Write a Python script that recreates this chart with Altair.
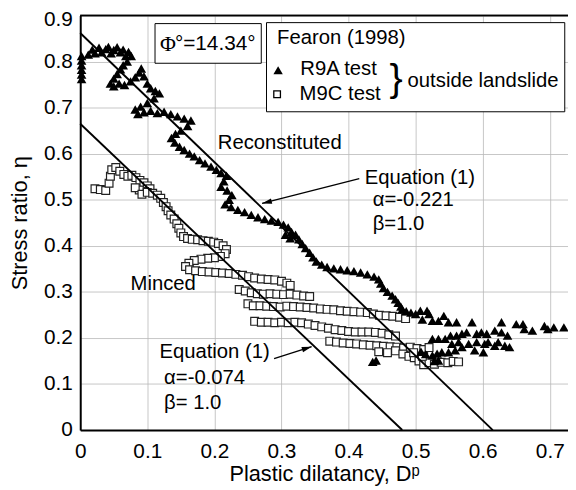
import altair as alt
import pandas as pd

# ---------------- data ----------------
# R9A test (filled triangles): (plastic dilatancy, stress ratio)
r9a_points = [
    (0.002, 0.762), (0.002, 0.772), (0.002, 0.782), (0.002, 0.792), (0.002, 0.802), (0.002, 0.812),
    (0.012, 0.815), (0.018, 0.826), (0.022, 0.818), (0.028, 0.830), (0.032, 0.820), (0.038, 0.827),
    (0.042, 0.832), (0.046, 0.818), (0.050, 0.825), (0.055, 0.831), (0.060, 0.820), (0.064, 0.826),
    (0.068, 0.812), (0.072, 0.821), (0.076, 0.812), (0.070, 0.800), (0.064, 0.792), (0.060, 0.783),
    (0.055, 0.773), (0.050, 0.763), (0.045, 0.752), (0.050, 0.746), (0.058, 0.752), (0.066, 0.749),
    (0.075, 0.757), (0.082, 0.766), (0.088, 0.776), (0.091, 0.785), (0.095, 0.768), (0.100, 0.752),
    (0.105, 0.742), (0.112, 0.736), (0.118, 0.731), (0.110, 0.720), (0.100, 0.710), (0.090, 0.702),
    (0.082, 0.696), (0.086, 0.686), (0.095, 0.690), (0.105, 0.693), (0.115, 0.688), (0.125, 0.691),
    (0.135, 0.686), (0.145, 0.681), (0.155, 0.676), (0.165, 0.672), (0.160, 0.660), (0.150, 0.650),
    (0.142, 0.643), (0.136, 0.634), (0.141, 0.624), (0.148, 0.615), (0.155, 0.608), (0.163, 0.600),
    (0.170, 0.594), (0.178, 0.586), (0.186, 0.579), (0.195, 0.572), (0.203, 0.565), (0.210, 0.558),
    (0.218, 0.552), (0.214, 0.540), (0.210, 0.528), (0.219, 0.520), (0.226, 0.510), (0.222, 0.500),
    (0.216, 0.490), (0.225, 0.484), (0.235, 0.478), (0.245, 0.473), (0.255, 0.467), (0.265, 0.462),
    (0.275, 0.458), (0.285, 0.455), (0.295, 0.452), (0.303, 0.446), (0.310, 0.440), (0.315, 0.430),
    (0.306, 0.424), (0.313, 0.416), (0.321, 0.424), (0.326, 0.414), (0.331, 0.404), (0.336, 0.395),
    (0.342, 0.385), (0.347, 0.375), (0.352, 0.366), (0.360, 0.359), (0.368, 0.354), (0.378, 0.351),
    (0.388, 0.349), (0.398, 0.347), (0.408, 0.345), (0.418, 0.342), (0.428, 0.338), (0.438, 0.333),
    (0.445, 0.327), (0.448, 0.318), (0.452, 0.308), (0.458, 0.300), (0.465, 0.292), (0.470, 0.284),
    (0.474, 0.276), (0.478, 0.268), (0.480, 0.262), (0.486, 0.258), (0.493, 0.255), (0.500, 0.252),
    (0.507, 0.259), (0.517, 0.259), (0.520, 0.252), (0.510, 0.240), (0.525, 0.237), (0.534, 0.237),
    (0.542, 0.248), (0.549, 0.234), (0.561, 0.234), (0.584, 0.234), (0.628, 0.234), (0.650, 0.230),
    (0.660, 0.230), (0.662, 0.219), (0.674, 0.216), (0.692, 0.226), (0.697, 0.219), (0.706, 0.223),
    (0.721, 0.223),
    (0.525, 0.198), (0.534, 0.198), (0.544, 0.198), (0.552, 0.205), (0.561, 0.205), (0.569, 0.209),
    (0.576, 0.212), (0.591, 0.209), (0.598, 0.212), (0.606, 0.209), (0.618, 0.216), (0.628, 0.212),
    (0.637, 0.205), (0.623, 0.191), (0.633, 0.183), (0.640, 0.180), (0.618, 0.183), (0.608, 0.191),
    (0.603, 0.187), (0.591, 0.191), (0.579, 0.187), (0.569, 0.180), (0.559, 0.173), (0.549, 0.169),
    (0.539, 0.169), (0.532, 0.166), (0.525, 0.162), (0.534, 0.151), (0.601, 0.169), (0.588, 0.173),
    (0.564, 0.191), (0.554, 0.187), (0.515, 0.165), (0.508, 0.170), (0.528, 0.150),
    (0.436, 0.148), (0.441, 0.151),
]

# M9C test (open squares)
m9c_points = [
    (0.022, 0.524), (0.030, 0.522), (0.038, 0.520), (0.043, 0.536), (0.045, 0.551), (0.047, 0.565),
    (0.053, 0.570), (0.059, 0.562), (0.065, 0.555), (0.071, 0.551), (0.077, 0.553), (0.083, 0.548),
    (0.089, 0.542), (0.095, 0.537), (0.100, 0.530), (0.104, 0.524), (0.096, 0.518), (0.088, 0.521),
    (0.082, 0.526), (0.092, 0.512), (0.100, 0.516), (0.108, 0.514), (0.115, 0.510), (0.120, 0.503),
    (0.124, 0.494), (0.128, 0.485), (0.131, 0.476), (0.135, 0.467), (0.140, 0.458), (0.144, 0.448),
    (0.147, 0.438), (0.150, 0.428), (0.154, 0.420), (0.160, 0.416), (0.167, 0.414), (0.175, 0.413),
    (0.183, 0.411), (0.191, 0.410), (0.199, 0.408), (0.206, 0.405), (0.213, 0.400), (0.218, 0.392),
    (0.216, 0.383), (0.209, 0.377), (0.200, 0.374), (0.190, 0.373), (0.180, 0.371), (0.170, 0.368),
    (0.162, 0.362), (0.157, 0.355), (0.163, 0.348), (0.172, 0.346), (0.182, 0.344), (0.192, 0.343),
    (0.202, 0.342), (0.212, 0.341), (0.222, 0.340), (0.232, 0.338), (0.242, 0.336), (0.251, 0.333),
    (0.260, 0.330), (0.270, 0.328), (0.280, 0.327), (0.290, 0.326), (0.300, 0.323), (0.308, 0.319),
    (0.313, 0.314),
    (0.237, 0.305), (0.246, 0.302), (0.255, 0.298), (0.264, 0.296), (0.273, 0.295), (0.283, 0.296),
    (0.293, 0.295), (0.303, 0.294), (0.313, 0.295), (0.323, 0.293), (0.333, 0.291), (0.342, 0.290),
    (0.250, 0.274), (0.258, 0.270), (0.268, 0.270), (0.278, 0.269), (0.288, 0.268), (0.298, 0.267),
    (0.308, 0.269), (0.318, 0.268), (0.328, 0.267), (0.338, 0.266), (0.348, 0.265), (0.358, 0.263),
    (0.368, 0.262), (0.378, 0.261), (0.388, 0.259), (0.398, 0.258), (0.408, 0.257), (0.418, 0.256),
    (0.428, 0.255), (0.437, 0.252), (0.446, 0.249), (0.456, 0.248), (0.466, 0.247), (0.476, 0.245),
    (0.485, 0.242),
    (0.260, 0.236), (0.270, 0.234), (0.280, 0.234), (0.290, 0.233), (0.300, 0.234), (0.310, 0.233),
    (0.320, 0.234), (0.330, 0.233), (0.340, 0.230), (0.350, 0.227), (0.360, 0.224), (0.370, 0.221),
    (0.380, 0.218), (0.390, 0.216), (0.400, 0.214), (0.410, 0.213), (0.420, 0.213), (0.430, 0.213),
    (0.440, 0.212), (0.450, 0.210), (0.460, 0.207), (0.470, 0.204),
    (0.372, 0.193), (0.382, 0.191), (0.392, 0.189), (0.402, 0.188), (0.412, 0.187), (0.422, 0.185),
    (0.432, 0.184), (0.442, 0.183), (0.452, 0.182), (0.462, 0.181), (0.472, 0.180), (0.482, 0.178),
    (0.492, 0.180), (0.502, 0.177), (0.512, 0.175), (0.520, 0.179),
    (0.445, 0.170), (0.458, 0.168), (0.470, 0.172), (0.481, 0.165), (0.490, 0.160), (0.498, 0.157),
    (0.505, 0.150), (0.512, 0.142), (0.520, 0.146), (0.528, 0.143), (0.538, 0.147), (0.548, 0.146),
    (0.556, 0.149), (0.564, 0.148), (0.497, 0.168), (0.510, 0.160),
]

# Equation (1) lines: end points
line_group = ["Reconstituted", "Reconstituted", "Minced", "Minced"]
line_x = [0.0, 0.615, 0.0, 0.480]
line_y = [0.862, 0.0, 0.665, 0.0]

# annotation texts (left aligned, vertically centred)
ann_text = ["Reconstituted", "Equation (1)", "α=-0.221", "β=1.0",
            "Minced", "Equation (1)", "α=-0.074", "β= 1.0",
            "Fearon (1998)", "R9A test", "M9C test", "outside landslide"]
ann_x = [0.205, 0.424, 0.436, 0.436, 0.075, 0.118, 0.125, 0.125, 0.2935, 0.328, 0.327, 0.488]
ann_y = [0.624, 0.548, 0.499, 0.447, 0.316, 0.170, 0.112, 0.058, 0.852, 0.783, 0.729, 0.757]

# boxes: Φ box and legend box
box_x = [0.1115, 0.2777]
box_x2 = [0.2699, 0.7223]
box_y = [0.8824, 0.8845]
box_y2 = [0.7963, 0.6910]

# arrows: start -> end, head angle (deg)
arr_x = [0.416, 0.289]
arr_y = [0.546, 0.155]
arr_x2 = [0.271, 0.345]
arr_y2 = [0.492, 0.181]
arr_angle = [256, 72.5]

W, H = 493, 419
FONT = "Liberation Sans"

xs = alt.Scale(domain=[0, W / 678.0], nice=False, zero=False)
ys = alt.Scale(domain=[0, 0.9], nice=False)

x_axis = alt.Axis(values=[0, 0.1, 0.2, 0.3, 0.4, 0.5, 0.6, 0.7],
                  labelExpr="datum.value == 0 ? '0' : format(datum.value, '.1f')",
                  title="Plastic dilatancy, Dᵖ", titleFont=FONT, titleFontSize=22,
                  titleFontWeight="normal", titleColor="black", titleBaseline="alphabetic",
                  titleY=51, labelFont=FONT, labelFontSize=21, labelColor="black",
                  labelPadding=11, labelFlush=False, ticks=False,
                  domainColor="black", domainWidth=2, grid=True,
                  gridColor="#b8b8b8", gridWidth=0.8)
y_axis = alt.Axis(values=[0, 0.1, 0.2, 0.3, 0.4, 0.5, 0.6, 0.7, 0.8, 0.9],
                  labelExpr="datum.value == 0 ? '0' : format(datum.value, '.1f')",
                  labelOffset={"condition": {"test": "datum.value > 0.85", "value": 4},
                               "value": 0},
                  title="Stress ratio, η", titleFont=FONT, titleFontSize=22,
                  titleFontWeight="normal", titleColor="black", titleBaseline="alphabetic",
                  titleX=-54, labelFont=FONT, labelFontSize=21, labelColor="black",
                  labelPadding=8, ticks=False, domainColor="black", domainWidth=2,
                  grid=True, gridColor="#b8b8b8", gridWidth=0.8)

df_r9a = pd.DataFrame(r9a_points, columns=["x", "y"])
df_m9c = pd.DataFrame(m9c_points, columns=["x", "y"])
df_line = pd.DataFrame({"g": line_group, "x": line_x, "y": line_y})
df_ann = pd.DataFrame({"t": ann_text, "x": ann_x, "y": ann_y})
df_box = pd.DataFrame({"x": box_x, "x2": box_x2, "y": box_y, "y2": box_y2})
df_arr = pd.DataFrame({"x": arr_x, "y": arr_y, "x2": arr_x2, "y2": arr_y2, "a": arr_angle})


def X(field="x"):
    return alt.X(f"{field}:Q", scale=xs, axis=x_axis)


def Y(field="y"):
    return alt.Y(f"{field}:Q", scale=ys, axis=y_axis)


def single(xv, yv):
    return alt.Chart(df_box.head(1)).transform_calculate(px=str(xv), py=str(yv))


lines = alt.Chart(df_line).mark_line(color="black", strokeWidth=1.9).encode(
    x=X(), y=Y(), detail="g:N")

boxes = alt.Chart(df_box).mark_rect(fill="white", stroke="black", strokeWidth=1).encode(
    x=X(), x2="x2:Q", y=Y(), y2="y2:Q")

squares = alt.Chart(df_m9c).mark_point(shape="square", filled=True, fill="white",
                                       stroke="#222", strokeWidth=1.2, size=62,
                                       opacity=1).encode(x=X(), y=Y())

triangles = alt.Chart(df_r9a).mark_point(shape="triangle-up", filled=True, color="black",
                                         size=95, opacity=1).encode(x=X(), y=Y())

top_border = alt.Chart(df_box).mark_rule(color="black", strokeWidth=1.5).encode(
    x=alt.value(0), x2=alt.value(W), y=alt.value(0))

texts = alt.Chart(df_ann).mark_text(align="left", baseline="middle", font=FONT,
                                    fontSize=20.5, color="black").encode(
    x=X(), y=Y(), text="t:N")

phi_sym = single(0.119, 0.8376).mark_text(
    align="left", baseline="middle", font="Liberation Serif", fontSize=22,
    color="black", text="Φ").encode(x=X("px"), y=Y("py"))

phi_txt = single(0.1411, 0.8376).mark_text(
    align="left", baseline="middle", font=FONT, fontSize=21, color="black",
    text="°=14.34°").encode(x=X("px"), y=Y("py"))

leg_tri = single(0.295, 0.781).mark_point(
    shape="triangle-up", filled=True, color="black", size=90, opacity=1).encode(
    x=X("px"), y=Y("py"))

leg_sq = single(0.2935, 0.729).mark_point(
    shape="square", filled=True, fill="white", stroke="black", strokeWidth=1.3,
    size=45, opacity=1).encode(x=X("px"), y=Y("py"))

brace = single(0.461, 0.762).mark_text(
    align="left", baseline="middle", font=FONT, fontSize=40, color="black",
    text="}").encode(x=X("px"), y=Y("py"))

arr_lines = alt.Chart(df_arr).mark_rule(color="black", strokeWidth=1.3).encode(
    x=X(), y=Y(), x2="x2:Q", y2="y2:Q")

arr_heads = alt.Chart(df_arr).mark_point(shape="M0,0L0.55,2L-0.55,2Z", filled=True,
                                         color="black", size=100, opacity=1).encode(
    x=X("x2"), y=Y("y2"), angle=alt.Angle("a:Q", scale=None))

chart = alt.layer(
    boxes, squares, triangles, lines, texts, phi_sym, phi_txt, leg_tri, leg_sq,
    brace, arr_lines, arr_heads, top_border
).properties(
    width=W, height=H,
    padding={"left": 73, "top": 5, "right": 0, "bottom": 57},
    autosize=alt.AutoSizeParams(type="none"),
).configure_view(stroke=None).configure(background="white")

chart.save("out.html", embed_options={"renderer": "svg", "actions": False})
